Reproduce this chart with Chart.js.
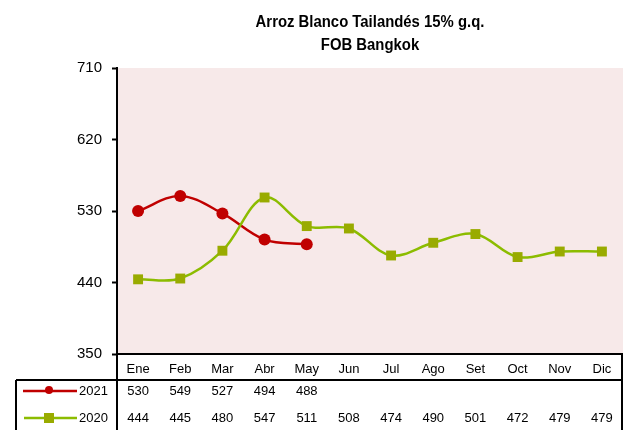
<!DOCTYPE html>
<html>
<head>
<meta charset="utf-8">
<script src="https://cdn.jsdelivr.net/npm/chart.js@4.4.1/dist/chart.umd.min.js"></script>
<style>
  html, body { margin: 0; padding: 0; background: #fff; }
  #wrap { width: 625px; height: 430px; position: relative; }
</style>
</head>
<body>
<div id="wrap"><canvas id="chartCanvas" width="625" height="430"></canvas></div>
<script>
// datos
const months = ["Ene", "Feb", "Mar", "Abr", "May", "Jun", "Jul", "Ago", "Set", "Oct", "Nov", "Dic"];
const values2021 = [530, 549, 527, 494, 488, null, null, null, null, null, null, null];
const values2020 = [444, 445, 480, 547, 511, 508, 474, 490, 501, 472, 479, 479];
const yTicks = [350, 440, 530, 620, 710];
const titleLines = ["Arroz Blanco Tailandés 15% g.q.", "FOB Bangkok"];

const RED = "#c00000";
const GREEN_LINE = "#8cbc00";
const GREEN_MARK = "#99ab00";
const FONT = "'Liberation Sans Narrow', 'Liberation Sans', Arial, sans-serif";

// tabla de datos debajo del grafico
const tablePlugin = {
    id: "dataTable",
    beforeDraw(chart) {
        const a = chart.chartArea;
        const ctx = chart.ctx;
        ctx.save();
        ctx.fillStyle = "#f7e9e9";
        ctx.fillRect(a.left, a.top, a.right - a.left, a.bottom - a.top);
        ctx.restore();
    },
    afterDraw(chart) {
        const a = chart.chartArea;
        const ctx = chart.ctx;
        const x = chart.scales.x;
        const H = chart.height;
        const rowCat = a.bottom + 15;
        const rowLine = a.bottom + 26;
        const row1 = a.bottom + 37;
        const row2 = a.bottom + 64;

        ctx.save();
        // titulo
        ctx.fillStyle = "#000";
        ctx.font = "bold 16px 'Liberation Sans', Arial, sans-serif";
        ctx.textAlign = "center";
        ctx.textBaseline = "middle";
        const cx = (a.left + a.right) / 2;
        ctx.save();
        ctx.translate(cx, 0);
        ctx.scale(0.93, 1);
        ctx.fillText(titleLines[0], 0, 23);
        ctx.fillText(titleLines[1], 0, 46);
        ctx.restore();

        // bordes
        ctx.strokeStyle = "#000";
        ctx.lineWidth = 2;
        ctx.beginPath();
        ctx.moveTo(a.left - 1, a.bottom);
        ctx.lineTo(a.right, a.bottom);
        ctx.moveTo(16, rowLine);
        ctx.lineTo(a.right, rowLine);
        ctx.moveTo(16, rowLine);
        ctx.lineTo(16, H);
        ctx.moveTo(a.left, a.bottom);
        ctx.lineTo(a.left, H);
        ctx.moveTo(a.right - 1, a.bottom);
        ctx.lineTo(a.right - 1, H);
        ctx.stroke();

        // meses y valores
        ctx.font = "13px " + FONT;
        ctx.textAlign = "center";
        ctx.textBaseline = "middle";
        months.forEach((m, i) => {
            const px = x.getPixelForValue(i);
            ctx.fillText(m, px, rowCat);
            if (values2021[i] != null) ctx.fillText(String(values2021[i]), px, row1);
            if (values2020[i] != null) ctx.fillText(String(values2020[i]), px, row2);
        });

        // leyenda
        ctx.textAlign = "right";
        ctx.fillText("2021", a.left - 9, row1);
        ctx.fillText("2020", a.left - 9, row2);

        ctx.lineWidth = 2.5;
        ctx.strokeStyle = RED;
        ctx.beginPath();
        ctx.moveTo(23, row1);
        ctx.lineTo(77, row1);
        ctx.stroke();
        ctx.fillStyle = RED;
        ctx.beginPath();
        ctx.arc(49, row1 - 1, 4, 0, Math.PI * 2);
        ctx.fill();

        ctx.strokeStyle = GREEN_LINE;
        ctx.beginPath();
        ctx.moveTo(24, row2);
        ctx.lineTo(77, row2);
        ctx.stroke();
        ctx.fillStyle = GREEN_MARK;
        ctx.fillRect(44, row2 - 5, 10, 10);
        ctx.restore();
    }
};

const ctx = document.getElementById("chartCanvas").getContext("2d");

new Chart(ctx, {
    type: "line",
    data: {
        labels: months,
        datasets: [
            {
                label: "2020",
                data: values2020,
                borderColor: GREEN_LINE,
                borderWidth: 2.5,
                pointStyle: "rect",
                pointRadius: 7,
                pointBackgroundColor: GREEN_MARK,
                pointBorderColor: GREEN_MARK,
                pointBorderWidth: 0,
                tension: 0.35
            },
            {
                label: "2021",
                data: values2021,
                borderColor: RED,
                borderWidth: 2.5,
                pointStyle: "circle",
                pointRadius: 6,
                pointBackgroundColor: RED,
                pointBorderColor: RED,
                pointBorderWidth: 0,
                tension: 0.35
            }
        ]
    },
    options: {
        responsive: false,
        animation: false,
        layout: { autoPadding: false, padding: { top: 68, bottom: 76, right: 2, left: 0 } },
        plugins: {
            legend: { display: false },
            title: { display: false },
            tooltip: { enabled: false }
        },
        scales: {
            x: {
                type: "category",
                display: false,
                offset: true
            },
            y: {
                min: 350,
                max: 710,
                afterFit(scale) { scale.width = 117; },
                afterBuildTicks(scale) { scale.ticks = yTicks.map(v => ({ value: v })); },
                border: { display: true, color: "#000", width: 2 },
                grid: {
                    drawOnChartArea: false,
                    drawTicks: true,
                    tickLength: 5,
                    tickWidth: 2,
                    tickColor: "#000"
                },
                ticks: {
                    color: "#000",
                    padding: 10,
                    font: { family: FONT, size: 15 }
                }
            }
        }
    },
    plugins: [tablePlugin]
});
</script>
</body>
</html>
